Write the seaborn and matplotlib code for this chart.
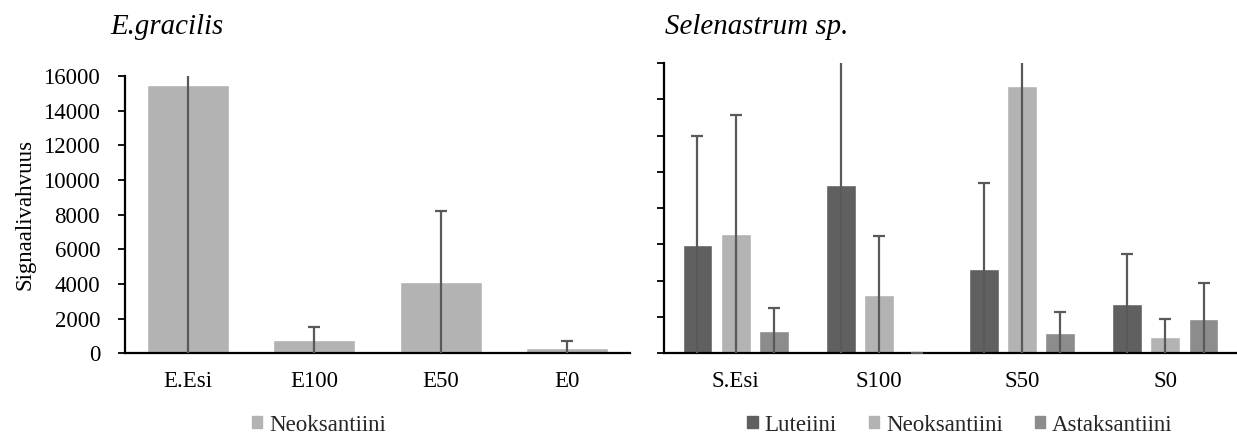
import matplotlib
matplotlib.use("Agg")
import matplotlib.pyplot as plt
import matplotlib.patches as mpatches
import seaborn as sns
import pandas as pd

# --- data -------------------------------------------------------------
e_groups = ["E.Esi", "E100", "E50", "E0"]
e_neo = [15480, 750, 4100, 320]
e_neo_err = [16200, 790, 4110, 390]

s_groups = ["S.Esi", "S100", "S50", "S0"]
pigments = ["Luteiini", "Neoksantiini", "Astaksantiini"]
s_lut = [5980, 9250, 4650, 2700]
s_neo = [6550, 3200, 14710, 900]
s_ast = [1230, 30, 1120, 1910]
s_lut_err = [5970, 9800, 4710, 2780]
s_neo_err = [6570, 3260, 15100, 980]
s_ast_err = [1270, 0, 1140, 1970]

y_ticks = [0, 2000, 4000, 6000, 8000, 10000, 12000, 14000, 16000]

colors = {"Luteiini": "#606060", "Neoksantiini": "#b3b3b3", "Astaksantiini": "#8c8c8c"}
err_color = "#595959"

# --- style ------------------------------------------------------------
sns.set_theme(style="white")
plt.rcParams["font.family"] = ["Liberation Serif", "DejaVu Serif"]
FS = 16.5

fig = plt.figure(figsize=(12.37, 4.44), dpi=100)
W, H = 1237, 444
ax1 = fig.add_axes([125 / W, 1 - 353.3 / H, 505 / W, (353.3 - 76) / H])
ax2 = fig.add_axes([664 / W, 1 - 353.3 / H, 573 / W, (353.3 - 63) / H])


def add_errors(ax, xs, values, errs):
    """Symmetric error bars; only the upper cap is drawn."""
    _, caps, _ = ax.errorbar(xs, values, yerr=errs, fmt="none", ecolor=err_color,
                             elinewidth=1.6, capsize=4.5, capthick=1.6, zorder=3)
    if len(caps) == 2:
        caps[0].set_visible(False)


# --- E. gracilis ------------------------------------------------------
df_e = pd.DataFrame({"group": e_groups, "value": e_neo, "err": e_neo_err})
sns.barplot(data=df_e, x="group", y="value", color=colors["Neoksantiini"],
            saturation=1, width=0.648, errorbar=None, ax=ax1)
bars = ax1.containers[0]
add_errors(ax1, [b.get_x() + b.get_width() / 2 for b in bars],
           df_e["value"], df_e["err"])

# --- Selenastrum sp. --------------------------------------------------
df_s = pd.DataFrame({
    "group": s_groups * 3,
    "pigment": [p for p in pigments for _ in s_groups],
    "value": s_lut + s_neo + s_ast,
    "err": s_lut_err + s_neo_err + s_ast_err,
})
sns.barplot(data=df_s, x="group", y="value", hue="pigment", hue_order=pigments,
            palette=colors, saturation=1, width=0.8, gap=0.22, errorbar=None,
            legend=False, ax=ax2)
for cont, pig in zip(ax2.containers, pigments):
    sub = df_s[df_s["pigment"] == pig]
    add_errors(ax2, [b.get_x() + b.get_width() / 2 for b in cont],
               sub["value"], sub["err"])

# --- axes cosmetics ---------------------------------------------------
for ax in (ax1, ax2):
    ax.set_ylim(0, 16000)
    ax.set_xlim(-0.5, 3.5)
    ax.set_yticks(y_ticks)
    ax.set_xlabel("")
    ax.set_ylabel("")
    for side in ("top", "right"):
        ax.spines[side].set_visible(False)
    for side in ("left", "bottom"):
        ax.spines[side].set_color("black")
        ax.spines[side].set_linewidth(1.6)
    ax.tick_params(axis="y", which="major", left=True, length=5, width=1.3,
                   color="black", direction="out", pad=13, labelsize=FS,
                   labelcolor="black")
    ax.tick_params(axis="x", bottom=False, length=0, pad=13, labelsize=FS,
                   labelcolor="black")
    ax.grid(False)

ax2.set_yticklabels([])

ax1.set_ylabel("Signaalivahvuus", fontsize=FS, color="black")
ax1.yaxis.set_label_coords(-0.178, 0.5)

fig.text(110 / W, 1 - 27 / H, "E.gracilis", fontsize=20.8, style="italic",
         va="center", ha="left", color="black")
fig.text(665 / W, 1 - 27 / H, "Selenastrum sp.", fontsize=20.8, style="italic",
         va="center", ha="left", color="black")

# --- legends ----------------------------------------------------------
h_neo = [mpatches.Patch(color=colors["Neoksantiini"], label="Neoksantiini")]
fig.legend(handles=h_neo, loc="center", bbox_to_anchor=(319 / W, 1 - 425 / H),
           frameon=False, fontsize=FS, handlelength=0.45, handleheight=0.45,
           handletextpad=0.3)

h_s = [mpatches.Patch(color=colors[p], label=p) for p in pigments]
fig.legend(handles=h_s, loc="center", bbox_to_anchor=(960 / W, 1 - 425 / H),
           ncol=3, frameon=False, fontsize=FS, handlelength=0.45,
           handleheight=0.45, handletextpad=0.3, columnspacing=1.4)

fig.savefig("out.png", dpi=100)
